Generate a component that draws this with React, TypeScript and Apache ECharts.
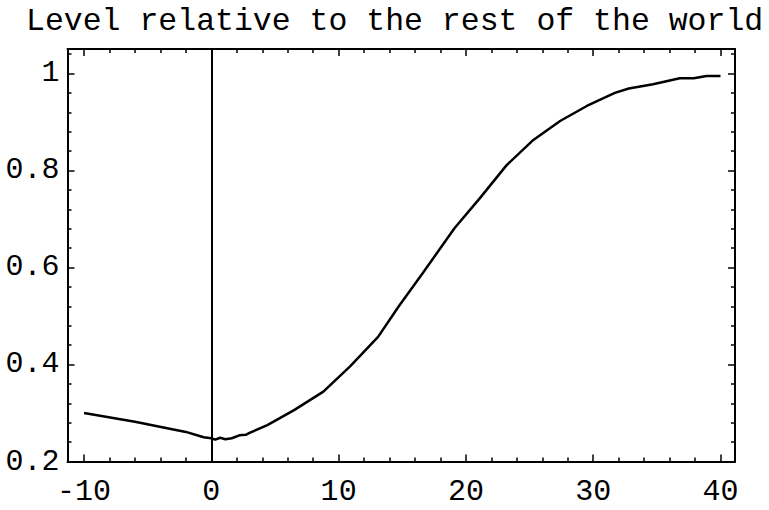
import React, { useEffect, useRef } from "react";
import * as echarts from "echarts";

const titleText = "Level relative to the rest of the world";
const xs = [-10, -6, -2, -0.6, 0, 0.3, 0.7, 1.1, 1.6, 2.2, 2.7, 3.0, 4.4, 6.5, 8.8, 10.9, 13.1, 14.7, 16.6, 19.1, 21.1, 23.2, 25.3, 27.4, 29.5, 31.7, 32.8, 34.7, 36.8, 37.9, 38.9, 40];
const ys = [0.300, 0.282, 0.261, 0.250, 0.248, 0.245, 0.249, 0.246, 0.248, 0.254, 0.255, 0.259, 0.275, 0.306, 0.344, 0.396, 0.457, 0.519, 0.588, 0.681, 0.743, 0.811, 0.863, 0.902, 0.933, 0.960, 0.969, 0.978, 0.990, 0.990, 0.995, 0.995];
const xMajor = [-10, 0, 10, 20, 30, 40];
const xMinor = [-8, -6, -4, -2, 2, 4, 6, 8, 12, 14, 16, 18, 22, 24, 26, 28, 32, 34, 36, 38];
const yMajor = [0.2, 0.4, 0.6, 0.8, 1];
const yMinor = [0.24, 0.28, 0.32, 0.36, 0.44, 0.48, 0.52, 0.56, 0.64, 0.68, 0.72, 0.76, 0.84, 0.88, 0.92, 0.96, 1.04];

const X_MIN = -11.3;
const X_MAX = 41.14;
const Y_MIN = 0.2;
const Y_MAX = 1.0505;

const FONT = "'Liberation Mono', 'DejaVu Sans Mono', monospace";

export default function App() {
  const ref = useRef<HTMLDivElement>(null);
  useEffect(() => {
    if (!ref.current) return;
    const chart = echarts.init(ref.current, undefined, { renderer: "svg" });
    const lineStyle = { color: "#000", width: 2 };
    const mkX = (position: string, ticks: number[], len: number, showLine: boolean, labels: boolean) => ({
      type: "value",
      min: X_MIN,
      max: X_MAX,
      position,
      axisLine: { show: showLine, onZero: false, lineStyle },
      axisTick: { show: true, inside: true, length: len, customValues: ticks, lineStyle: { color: "#000", width: 1.5 } },
      axisLabel: labels
        ? { show: true, customValues: ticks, fontFamily: FONT, fontSize: 30, color: "#000", margin: 15 }
        : { show: false },
      splitLine: { show: false },
    });
    const mkY = (position: string, ticks: number[], len: number, showLine: boolean, labels: boolean) => ({
      type: "value",
      min: Y_MIN,
      max: Y_MAX,
      position,
      axisLine: { show: showLine, onZero: false, lineStyle },
      axisTick: { show: true, inside: true, length: len, customValues: ticks, lineStyle: { color: "#000", width: 1.5 } },
      axisLabel: labels
        ? { show: true, customValues: ticks, fontFamily: FONT, fontSize: 30, color: "#000", margin: 8, formatter: (v: number) => String(v) }
        : { show: false },
      splitLine: { show: false },
    });
    chart.setOption({
      animation: false,
      backgroundColor: "#fff",
      title: {
        text: titleText,
        left: 21,
        top: 0,
        textStyle: { fontFamily: FONT, fontSize: 31.5, fontWeight: "normal", color: "#000" },
      },
      grid: { left: 67.5, right: 34, top: 49, bottom: 48.5, containLabel: false },
      xAxis: [
        mkX("bottom", xMajor, 7, true, true),
        mkX("bottom", xMinor, 4, false, false),
        mkX("top", xMajor, 7, true, false),
        mkX("top", xMinor, 4, false, false),
      ],
      yAxis: [
        mkY("left", yMajor, 7, true, true),
        mkY("left", yMinor, 4, false, false),
        mkY("right", yMajor, 7, true, false),
        mkY("right", yMinor, 4, false, false),
      ],
      series: [
        {
          type: "line",
          xAxisIndex: 0,
          yAxisIndex: 0,
          data: xs.map((x, i) => [x, ys[i]]),
          showSymbol: false,
          symbol: "none",
          lineStyle: { color: "#000", width: 2.5 },
          markLine: {
            silent: true,
            symbol: "none",
            label: { show: false },
            lineStyle: { color: "#000", width: 2, type: "solid" },
            data: [{ xAxis: 0 }],
          },
        },
      ],
    });
    return () => chart.dispose();
  }, []);
  return <div ref={ref} style={{ position: "fixed", left: 0, top: 0, width: 769, height: 510 }} />;
}
